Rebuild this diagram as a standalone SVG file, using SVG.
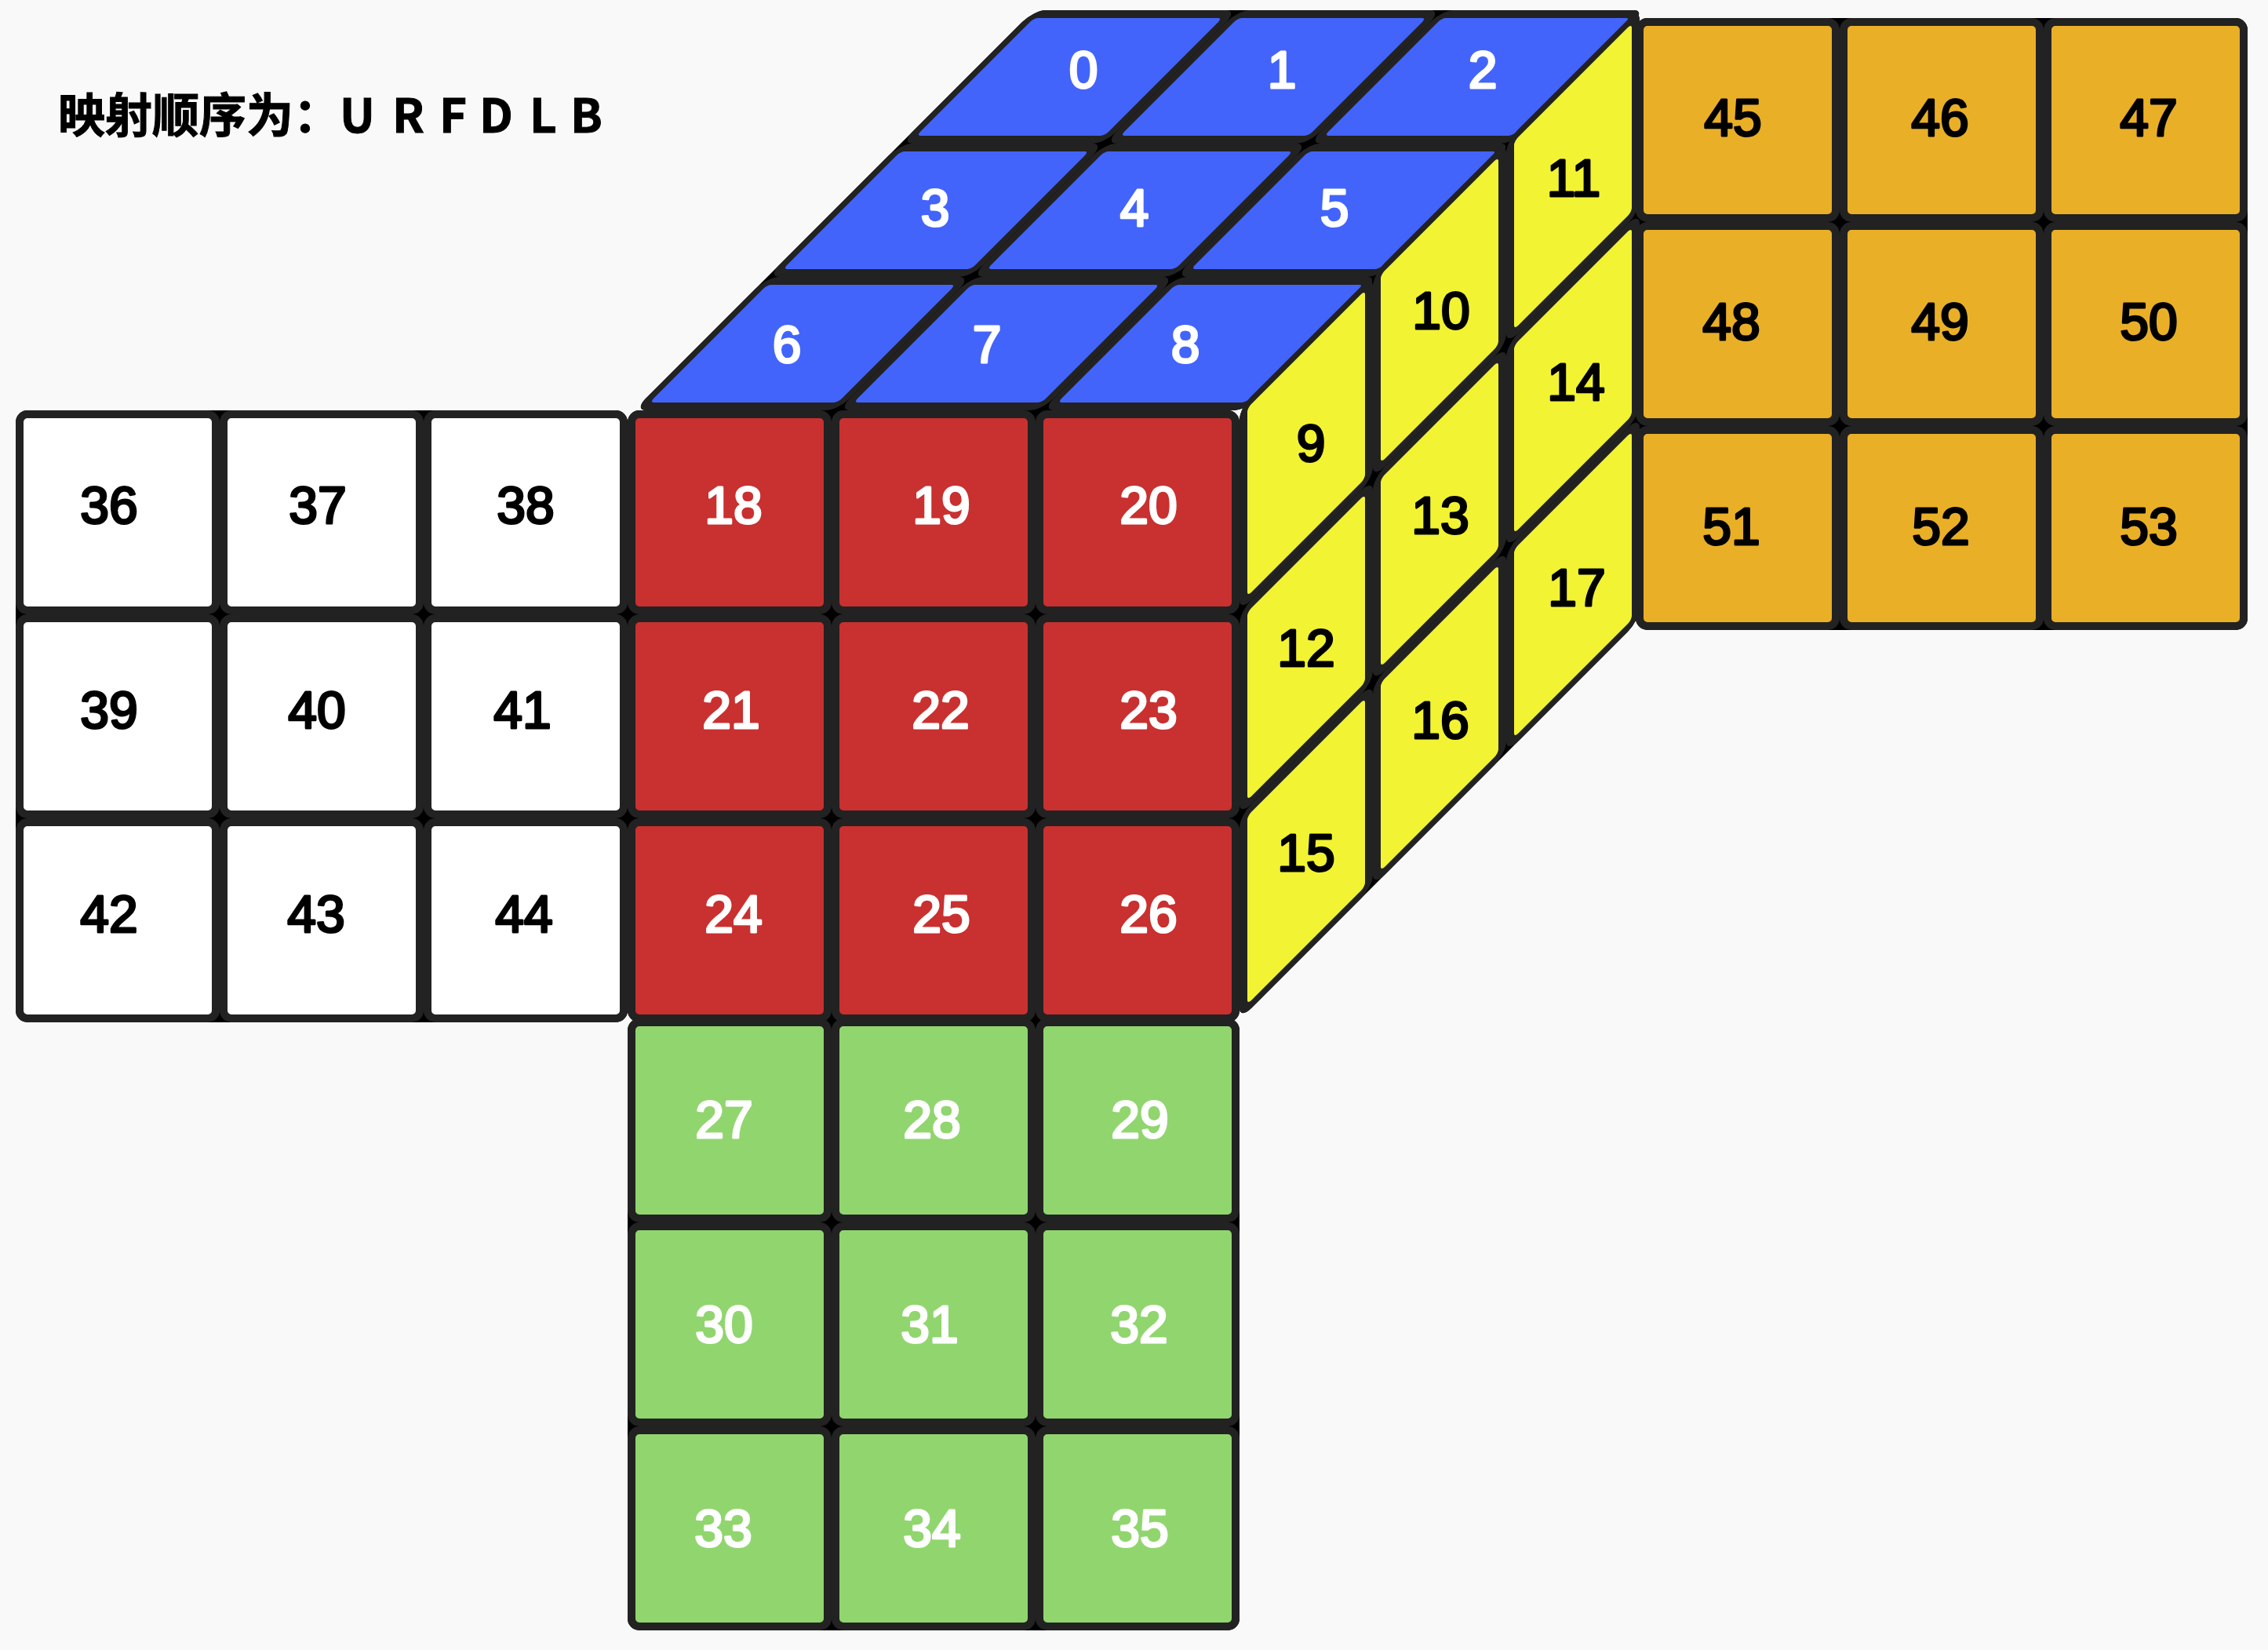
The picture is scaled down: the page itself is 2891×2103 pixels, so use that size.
<svg xmlns="http://www.w3.org/2000/svg" width="2891" height="2103" viewBox="0 0 2891 2103">
<style>
.c{stroke:#222;stroke-width:10}
.s{fill:#000}
.u{fill:#4364fb}.r{fill:#f2f332}.f{fill:#c93030}.d{fill:#91d56f}.l{fill:#fff}.b{fill:#e9af27}
text.n{font-family:"Liberation Sans",Arial,sans-serif;font-size:66px;text-anchor:middle;stroke-width:3;stroke-linejoin:round;stroke-linecap:round}
text.w{fill:#fff;stroke:#fff}
text.k{fill:#000;stroke:#000}
text.t{font-family:"Noto Sans CJK SC","Noto Sans",sans-serif;font-size:60px;font-weight:700;fill:#000;stroke:#000;stroke-width:1}
</style>
<rect width="2891" height="2103" fill="#f9f9f9"/>
<g id="title"><text class="t" x="74" y="169">映射顺序为：<tspan x="433">U</tspan> <tspan x="500">R</tspan> <tspan x="560">F</tspan> <tspan x="611">D</tspan> <tspan x="675">L</tspan> <tspan x="727">B</tspan></text></g>
<g id="backings">
<rect class="s" x="1331" y="13" width="780" height="510" rx="15" transform="matrix(1 0 -1 1 0 0)"/>
<rect class="s" x="1580" y="2100" width="510" height="780" rx="15" transform="matrix(1 -1 0 1 0 0)"/>
<rect class="s" x="2085" y="23" width="780" height="780" rx="15"/>
<rect class="s" x="20" y="523" width="780" height="780" rx="15"/>
<rect class="s" x="800" y="523" width="780" height="780" rx="15"/>
<rect class="s" x="800" y="1298" width="780" height="780" rx="15"/>
</g>
<g id="face-U">
<g id="cell-0"><rect class="c u" x="1336" y="18" width="250" height="160" rx="10" transform="matrix(1 0 -1 1 0 0)"/><text class="n w" x="1381" y="112">0</text></g>
<g id="cell-1"><rect class="c u" x="1596" y="18" width="250" height="160" rx="10" transform="matrix(1 0 -1 1 0 0)"/><text class="n w" x="1634" y="112">1</text></g>
<g id="cell-2"><rect class="c u" x="1856" y="18" width="250" height="160" rx="10" transform="matrix(1 0 -1 1 0 0)"/><text class="n w" x="1890" y="112">2</text></g>
<g id="cell-3"><rect class="c u" x="1336" y="188" width="250" height="160" rx="10" transform="matrix(1 0 -1 1 0 0)"/><text class="n w" x="1192" y="288">3</text></g>
<g id="cell-4"><rect class="c u" x="1596" y="188" width="250" height="160" rx="10" transform="matrix(1 0 -1 1 0 0)"/><text class="n w" x="1446" y="288">4</text></g>
<g id="cell-5"><rect class="c u" x="1856" y="188" width="250" height="160" rx="10" transform="matrix(1 0 -1 1 0 0)"/><text class="n w" x="1701" y="288">5</text></g>
<g id="cell-6"><rect class="c u" x="1336" y="358" width="250" height="160" rx="10" transform="matrix(1 0 -1 1 0 0)"/><text class="n w" x="1003" y="462">6</text></g>
<g id="cell-7"><rect class="c u" x="1596" y="358" width="250" height="160" rx="10" transform="matrix(1 0 -1 1 0 0)"/><text class="n w" x="1258" y="462">7</text></g>
<g id="cell-8"><rect class="c u" x="1856" y="358" width="250" height="160" rx="10" transform="matrix(1 0 -1 1 0 0)"/><text class="n w" x="1511" y="462">8</text></g>
</g>
<g id="face-R">
<g id="cell-9"><rect class="c r" x="1585" y="2105" width="160" height="250" rx="10" transform="matrix(1 -1 0 1 0 0)"/><text class="n k" x="1671" y="588">9</text></g>
<g id="cell-10"><rect class="c r" x="1755" y="2105" width="160" height="250" rx="10" transform="matrix(1 -1 0 1 0 0)"/><text class="n k" x="1837" y="419">10</text></g>
<g id="cell-11"><rect class="c r" x="1925" y="2105" width="160" height="250" rx="10" transform="matrix(1 -1 0 1 0 0)"/><text class="n k" x="2006" y="250">11</text></g>
<g id="cell-12"><rect class="c r" x="1585" y="2365" width="160" height="250" rx="10" transform="matrix(1 -1 0 1 0 0)"/><text class="n k" x="1665" y="849">12</text></g>
<g id="cell-13"><rect class="c r" x="1755" y="2365" width="160" height="250" rx="10" transform="matrix(1 -1 0 1 0 0)"/><text class="n k" x="1836" y="680">13</text></g>
<g id="cell-14"><rect class="c r" x="1925" y="2365" width="160" height="250" rx="10" transform="matrix(1 -1 0 1 0 0)"/><text class="n k" x="2009" y="510">14</text></g>
<g id="cell-15"><rect class="c r" x="1585" y="2625" width="160" height="250" rx="10" transform="matrix(1 -1 0 1 0 0)"/><text class="n k" x="1665" y="1110">15</text></g>
<g id="cell-16"><rect class="c r" x="1755" y="2625" width="160" height="250" rx="10" transform="matrix(1 -1 0 1 0 0)"/><text class="n k" x="1836" y="941">16</text></g>
<g id="cell-17"><rect class="c r" x="1925" y="2625" width="160" height="250" rx="10" transform="matrix(1 -1 0 1 0 0)"/><text class="n k" x="2010" y="772">17</text></g>
</g>
<g id="face-B">
<g id="cell-45"><rect class="c b" x="2090" y="28" width="250" height="250" rx="10"/><text class="n k" x="2209" y="173">45</text></g>
<g id="cell-46"><rect class="c b" x="2350" y="28" width="250" height="250" rx="10"/><text class="n k" x="2473" y="173">46</text></g>
<g id="cell-47"><rect class="c b" x="2610" y="28" width="250" height="250" rx="10"/><text class="n k" x="2739" y="173">47</text></g>
<g id="cell-48"><rect class="c b" x="2090" y="288" width="250" height="250" rx="10"/><text class="n k" x="2207" y="433">48</text></g>
<g id="cell-49"><rect class="c b" x="2350" y="288" width="250" height="250" rx="10"/><text class="n k" x="2473" y="433">49</text></g>
<g id="cell-50"><rect class="c b" x="2610" y="288" width="250" height="250" rx="10"/><text class="n k" x="2739" y="433">50</text></g>
<g id="cell-51"><rect class="c b" x="2090" y="548" width="250" height="250" rx="10"/><text class="n k" x="2207" y="694">51</text></g>
<g id="cell-52"><rect class="c b" x="2350" y="548" width="250" height="250" rx="10"/><text class="n k" x="2474" y="694">52</text></g>
<g id="cell-53"><rect class="c b" x="2610" y="548" width="250" height="250" rx="10"/><text class="n k" x="2739" y="694">53</text></g>
</g>
<g id="face-L">
<g id="cell-36"><rect class="c l" x="25" y="528" width="250" height="250" rx="10"/><text class="n k" x="139" y="667">36</text></g>
<g id="cell-37"><rect class="c l" x="285" y="528" width="250" height="250" rx="10"/><text class="n k" x="405" y="667">37</text></g>
<g id="cell-38"><rect class="c l" x="545" y="528" width="250" height="250" rx="10"/><text class="n k" x="670" y="667">38</text></g>
<g id="cell-39"><rect class="c l" x="25" y="788" width="250" height="250" rx="10"/><text class="n k" x="139" y="928">39</text></g>
<g id="cell-40"><rect class="c l" x="285" y="788" width="250" height="250" rx="10"/><text class="n k" x="404" y="928">40</text></g>
<g id="cell-41"><rect class="c l" x="545" y="788" width="250" height="250" rx="10"/><text class="n k" x="666" y="928">41</text></g>
<g id="cell-42"><rect class="c l" x="25" y="1048" width="250" height="250" rx="10"/><text class="n k" x="139" y="1188">42</text></g>
<g id="cell-43"><rect class="c l" x="285" y="1048" width="250" height="250" rx="10"/><text class="n k" x="403" y="1188">43</text></g>
<g id="cell-44"><rect class="c l" x="545" y="1048" width="250" height="250" rx="10"/><text class="n k" x="668" y="1188">44</text></g>
</g>
<g id="face-F">
<g id="cell-18"><rect class="c f" x="805" y="528" width="250" height="250" rx="10"/><text class="n w" x="935" y="667">18</text></g>
<g id="cell-19"><rect class="c f" x="1065" y="528" width="250" height="250" rx="10"/><text class="n w" x="1200" y="667">19</text></g>
<g id="cell-20"><rect class="c f" x="1325" y="528" width="250" height="250" rx="10"/><text class="n w" x="1464" y="667">20</text></g>
<g id="cell-21"><rect class="c f" x="805" y="788" width="250" height="250" rx="10"/><text class="n w" x="932" y="928">21</text></g>
<g id="cell-22"><rect class="c f" x="1065" y="788" width="250" height="250" rx="10"/><text class="n w" x="1199" y="928">22</text></g>
<g id="cell-23"><rect class="c f" x="1325" y="788" width="250" height="250" rx="10"/><text class="n w" x="1464" y="928">23</text></g>
<g id="cell-24"><rect class="c f" x="805" y="1048" width="250" height="250" rx="10"/><text class="n w" x="935" y="1188">24</text></g>
<g id="cell-25"><rect class="c f" x="1065" y="1048" width="250" height="250" rx="10"/><text class="n w" x="1200" y="1188">25</text></g>
<g id="cell-26"><rect class="c f" x="1325" y="1048" width="250" height="250" rx="10"/><text class="n w" x="1464" y="1188">26</text></g>
</g>
<g id="face-D">
<g id="cell-27"><rect class="c d" x="805" y="1303" width="250" height="250" rx="10"/><text class="n w" x="923" y="1450">27</text></g>
<g id="cell-28"><rect class="c d" x="1065" y="1303" width="250" height="250" rx="10"/><text class="n w" x="1188" y="1450">28</text></g>
<g id="cell-29"><rect class="c d" x="1325" y="1303" width="250" height="250" rx="10"/><text class="n w" x="1453" y="1450">29</text></g>
<g id="cell-30"><rect class="c d" x="805" y="1563" width="250" height="250" rx="10"/><text class="n w" x="923" y="1711">30</text></g>
<g id="cell-31"><rect class="c d" x="1065" y="1563" width="250" height="250" rx="10"/><text class="n w" x="1185" y="1711">31</text></g>
<g id="cell-32"><rect class="c d" x="1325" y="1563" width="250" height="250" rx="10"/><text class="n w" x="1452" y="1711">32</text></g>
<g id="cell-33"><rect class="c d" x="805" y="1823" width="250" height="250" rx="10"/><text class="n w" x="922" y="1971">33</text></g>
<g id="cell-34"><rect class="c d" x="1065" y="1823" width="250" height="250" rx="10"/><text class="n w" x="1188" y="1971">34</text></g>
<g id="cell-35"><rect class="c d" x="1325" y="1823" width="250" height="250" rx="10"/><text class="n w" x="1453" y="1971">35</text></g>
</g>
</svg>
